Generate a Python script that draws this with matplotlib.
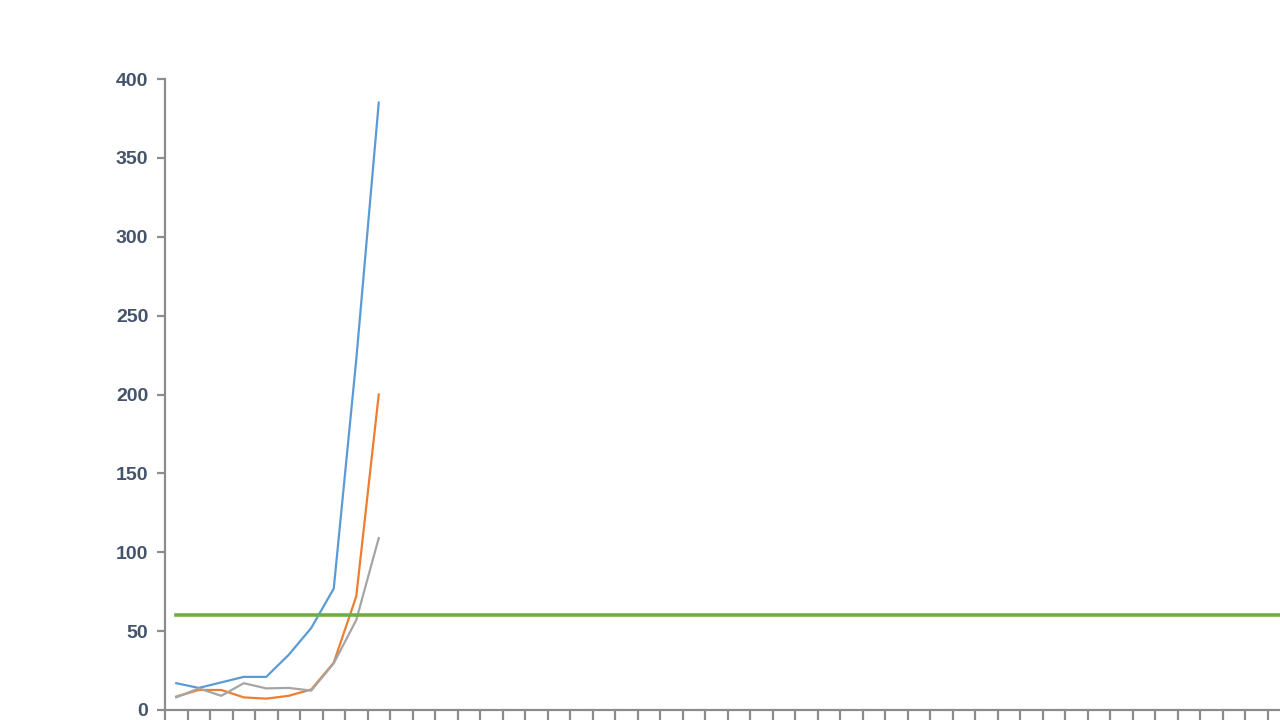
import matplotlib
matplotlib.use("Agg")
import matplotlib.pyplot as plt

plt.rcParams['font.family'] = ['Liberation Sans Narrow', 'Liberation Sans', 'DejaVu Sans']

# Data
weeks = [str(w) for w in range(1, 53)]          # 52 week categories
series_blue = [17, 14, 17.5, 21, 21, 35, 52, 77, 222, 385]
series_orange = [8.5, 12.7, 12.7, 8, 7.2, 9, 13, 30, 72, 200]
series_gray = [8, 13.7, 9, 17, 13.7, 14, 12.3, 29.6, 57, 109]
threshold = 60
y_ticks = [0, 50, 100, 150, 200, 250, 300, 350, 400]

fig = plt.figure(figsize=(12.8, 7.2), dpi=100)
# axes extends beyond the right edge (the reference is a cropped screenshot)
ax = fig.add_axes([165/1280, 10/720, len(weeks)*22.5/1280, 631/720])

x_idx = list(range(len(weeks)))
ax.plot(x_idx[:len(series_blue)], series_blue, color='#5B9BD5', lw=1.6, solid_joinstyle='round')
ax.plot(x_idx[:len(series_orange)], series_orange, color='#ED7D31', lw=1.6, solid_joinstyle='round')
ax.plot(x_idx[:len(series_gray)], series_gray, color='#A5A5A5', lw=1.6, solid_joinstyle='round')
ax.plot(x_idx, [threshold]*len(weeks), color='#70AD47', lw=2.6)

ax.set_xlim(-0.5, len(weeks) - 0.5)
ax.set_ylim(0, 400)
ax.set_yticks(y_ticks)
ax.set_yticklabels([str(v) for v in y_ticks])
ax.set_xticks([i - 0.5 for i in range(len(weeks) + 1)])
ax.set_xticklabels([])

for s in ['top', 'right']:
    ax.spines[s].set_visible(False)
for s in ['left', 'bottom']:
    ax.spines[s].set_color('#8C8C8C')
    ax.spines[s].set_linewidth(1.6)

ax.tick_params(axis='y', colors='#8C8C8C', width=1.6, length=6, pad=6,
               labelcolor='#44546A', labelsize=14)
ax.tick_params(axis='x', colors='#8C8C8C', width=1.6, length=8)
for lab in ax.get_yticklabels():
    lab.set_fontweight('bold')

fig.savefig('out.png', dpi=100)
